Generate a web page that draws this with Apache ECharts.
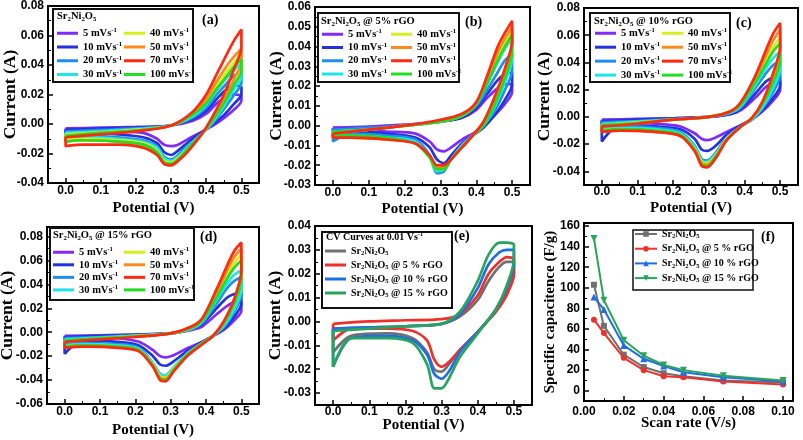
<!DOCTYPE html>
<html><head><meta charset="utf-8">
<script src="https://cdn.jsdelivr.net/npm/echarts@6/dist/echarts.min.js"></script>
<style>html,body{margin:0;padding:0;background:#fff}#c{width:803px;height:440px}</style>
</head><body><div id="c"></div>
<script>
const SANS = "'Liberation Sans', Arial, sans-serif";
const SERIF = "'Liberation Serif', 'Times New Roman', serif";

// ---------- data ----------
const rateNames = ['5 mVs-1','10 mVs-1','20 mVs-1','30 mVs-1','40 mVs-1','50 mVs-1','70 mVs-1','100 mVs-1'];
const rateColors = ['#7f2bff','#2233dd','#1c8ff0','#1ee6e6','#d4f01e','#ff8a1c','#ff2a12','#22dd22'];

// panel (a) Sr2Ni2O5
const xA = [0,0.1,0.2,0.3,0.36,0.4,0.43,0.46,0.48,0.5,0.5,0.48,0.45,0.42,0.39,0.35,0.32,0.3,0.28,0.26,0.22,0.15,0.05,0];
const A5 = [-0.003,-0.0025,-0.002,-0.001,0.002,0.007,0.014,0.019,0.02,0.019,0.016,0.01,0.004,-0.001,-0.005,-0.01,-0.014,-0.015,-0.014,-0.01,-0.006,-0.005,-0.004,-0.005];
const A10 = [-0.004,-0.003,-0.0025,-0.001,0.003,0.009,0.017,0.024,0.026,0.025,0.02,0.014,0.006,0.0,-0.005,-0.012,-0.018,-0.021,-0.019,-0.013,-0.009,-0.007,-0.006,-0.012];
const A20 = [-0.005,-0.004,-0.003,-0.001,0.004,0.011,0.02,0.028,0.033,0.035,0.028,0.02,0.01,0.001,-0.006,-0.014,-0.021,-0.024,-0.022,-0.015,-0.011,-0.009,-0.008,-0.009];
const A30 = [-0.006,-0.005,-0.0035,-0.001,0.005,0.013,0.023,0.032,0.037,0.041,0.032,0.024,0.012,0.002,-0.006,-0.015,-0.022,-0.025,-0.023,-0.016,-0.012,-0.01,-0.009,-0.01];
const A40 = [-0.007,-0.0055,-0.004,-0.001,0.006,0.015,0.026,0.036,0.042,0.047,0.038,0.028,0.014,0.003,-0.006,-0.016,-0.023,-0.026,-0.025,-0.018,-0.013,-0.011,-0.01,-0.011];
const A50 = [-0.008,-0.006,-0.0045,-0.001,0.007,0.017,0.029,0.04,0.046,0.051,0.042,0.031,0.016,0.004,-0.006,-0.017,-0.024,-0.027,-0.026,-0.019,-0.014,-0.012,-0.011,-0.012];
const A70 = [-0.009,-0.007,-0.005,-0.001,0.008,0.02,0.034,0.048,0.057,0.064,0.052,0.038,0.02,0.006,-0.006,-0.018,-0.025,-0.028,-0.027,-0.021,-0.016,-0.014,-0.014,-0.015];
const A100 = [-0.008,-0.006,-0.0045,-0.001,0.006,0.014,0.024,0.033,0.039,0.044,0.036,0.027,0.014,0.003,-0.006,-0.016,-0.024,-0.027,-0.026,-0.019,-0.014,-0.012,-0.011,-0.012];

// panel (b) 5% rGO
const xB = [0,0.1,0.2,0.3,0.36,0.4,0.43,0.46,0.48,0.5,0.5,0.48,0.45,0.42,0.39,0.36,0.33,0.31,0.29,0.27,0.23,0.15,0.05,0];
const B5 = [-0.001,-0.0005,0.0005,0.002,0.004,0.008,0.014,0.019,0.021,0.021,0.017,0.011,0.005,0.0,-0.004,-0.007,-0.011,-0.013,-0.012,-0.008,-0.004,-0.003,-0.002,-0.002];
const B10 = [-0.002,-0.001,0.0,0.002,0.004,0.009,0.016,0.023,0.026,0.027,0.021,0.013,0.005,-0.001,-0.005,-0.009,-0.015,-0.019,-0.017,-0.011,-0.006,-0.004,-0.003,-0.003];
const B20 = [-0.002,-0.001,0.0,0.002,0.005,0.01,0.018,0.027,0.033,0.036,0.028,0.018,0.007,0.0,-0.005,-0.01,-0.017,-0.023,-0.024,-0.015,-0.007,-0.005,-0.004,-0.008];
const B30 = [-0.003,-0.002,0.0,0.002,0.005,0.011,0.021,0.032,0.039,0.044,0.034,0.022,0.009,0.0,-0.005,-0.01,-0.017,-0.022,-0.023,-0.016,-0.008,-0.006,-0.005,-0.005];
const B40 = [-0.003,-0.002,0.0,0.002,0.005,0.011,0.022,0.035,0.042,0.048,0.038,0.025,0.011,0.001,-0.005,-0.011,-0.017,-0.022,-0.022,-0.016,-0.009,-0.007,-0.006,-0.006];
const B50 = [-0.004,-0.002,0.0,0.002,0.005,0.011,0.023,0.037,0.044,0.05,0.04,0.027,0.012,0.001,-0.005,-0.011,-0.017,-0.021,-0.021,-0.016,-0.009,-0.007,-0.006,-0.006];
const B70 = [-0.004,-0.002,0.0,0.003,0.006,0.012,0.025,0.04,0.047,0.053,0.043,0.029,0.014,0.002,-0.005,-0.011,-0.017,-0.02,-0.02,-0.015,-0.009,-0.007,-0.006,-0.006];
const B100 = [-0.003,-0.002,0.0,0.002,0.005,0.011,0.021,0.033,0.04,0.046,0.037,0.024,0.01,0.0,-0.005,-0.011,-0.017,-0.022,-0.022,-0.016,-0.009,-0.006,-0.005,-0.005];

// panel (c) 10% rGO
const xC = [0,0.1,0.2,0.3,0.36,0.39,0.43,0.46,0.48,0.5,0.5,0.48,0.45,0.42,0.39,0.35,0.32,0.295,0.28,0.26,0.22,0.15,0.05,0];
const C5 = [-0.002,-0.0015,-0.001,0.0,0.002,0.005,0.014,0.022,0.025,0.026,0.02,0.012,0.004,-0.002,-0.006,-0.011,-0.015,-0.017,-0.016,-0.012,-0.007,-0.005,-0.004,-0.005];
const C10 = [-0.003,-0.002,-0.001,0.0,0.002,0.006,0.017,0.026,0.029,0.03,0.023,0.014,0.005,-0.002,-0.006,-0.013,-0.021,-0.025,-0.024,-0.016,-0.009,-0.007,-0.006,-0.018];
const C20 = [-0.004,-0.003,-0.0015,0.0,0.003,0.007,0.021,0.032,0.038,0.041,0.031,0.018,0.006,-0.002,-0.007,-0.015,-0.026,-0.032,-0.031,-0.021,-0.011,-0.008,-0.007,-0.008];
const C30 = [-0.005,-0.0035,-0.002,0.0,0.003,0.008,0.023,0.036,0.043,0.048,0.036,0.021,0.007,-0.002,-0.007,-0.016,-0.027,-0.033,-0.032,-0.022,-0.012,-0.009,-0.008,-0.009];
const C40 = [-0.006,-0.004,-0.002,0.0,0.004,0.009,0.026,0.041,0.051,0.058,0.044,0.026,0.009,-0.001,-0.007,-0.016,-0.028,-0.034,-0.033,-0.023,-0.013,-0.01,-0.009,-0.01];
const C50 = [-0.006,-0.0045,-0.002,0.0,0.004,0.01,0.028,0.045,0.056,0.064,0.048,0.029,0.01,-0.001,-0.007,-0.017,-0.029,-0.035,-0.034,-0.024,-0.014,-0.011,-0.01,-0.011];
const C70 = [-0.007,-0.005,-0.002,0.0,0.004,0.011,0.03,0.049,0.061,0.069,0.052,0.032,0.011,-0.001,-0.007,-0.017,-0.03,-0.037,-0.036,-0.025,-0.014,-0.011,-0.01,-0.011];
const C100 = [-0.006,-0.0045,-0.002,0.0,0.004,0.009,0.025,0.039,0.048,0.054,0.042,0.025,0.009,-0.001,-0.007,-0.017,-0.029,-0.036,-0.035,-0.024,-0.013,-0.01,-0.009,-0.01];

// panel (d) 15% rGO
const xD = [0,0.1,0.2,0.3,0.36,0.39,0.43,0.46,0.48,0.5,0.5,0.48,0.45,0.42,0.39,0.35,0.31,0.285,0.27,0.25,0.21,0.15,0.05,0];
const D5 = [-0.003,-0.0025,-0.002,-0.001,0.002,0.005,0.015,0.022,0.025,0.025,0.018,0.01,0.002,-0.003,-0.008,-0.013,-0.019,-0.021,-0.02,-0.015,-0.008,-0.005,-0.004,-0.004];
const D10 = [-0.004,-0.003,-0.002,-0.001,0.003,0.007,0.02,0.029,0.032,0.033,0.024,0.013,0.003,-0.003,-0.008,-0.015,-0.024,-0.028,-0.027,-0.02,-0.011,-0.008,-0.007,-0.018];
const D20 = [-0.005,-0.004,-0.0025,-0.001,0.003,0.008,0.024,0.037,0.043,0.046,0.032,0.017,0.004,-0.003,-0.009,-0.017,-0.029,-0.036,-0.035,-0.026,-0.013,-0.01,-0.009,-0.01];
const D30 = [-0.006,-0.0045,-0.003,-0.001,0.003,0.009,0.027,0.041,0.048,0.052,0.036,0.019,0.005,-0.003,-0.009,-0.017,-0.029,-0.036,-0.035,-0.026,-0.014,-0.011,-0.01,-0.011];
const D40 = [-0.007,-0.005,-0.003,-0.001,0.004,0.01,0.031,0.048,0.058,0.065,0.045,0.024,0.007,-0.003,-0.009,-0.018,-0.03,-0.038,-0.037,-0.027,-0.015,-0.012,-0.011,-0.012];
const D50 = [-0.007,-0.0055,-0.0035,-0.001,0.004,0.011,0.033,0.052,0.063,0.07,0.049,0.026,0.008,-0.003,-0.009,-0.018,-0.031,-0.039,-0.038,-0.028,-0.015,-0.012,-0.011,-0.012];
const D70 = [-0.008,-0.006,-0.004,-0.001,0.005,0.012,0.036,0.056,0.068,0.075,0.052,0.028,0.009,-0.003,-0.01,-0.019,-0.032,-0.041,-0.04,-0.029,-0.016,-0.013,-0.012,-0.013];
const D100 = [-0.007,-0.005,-0.0035,-0.001,0.004,0.01,0.029,0.045,0.054,0.06,0.044,0.024,0.007,-0.003,-0.009,-0.018,-0.031,-0.04,-0.039,-0.028,-0.015,-0.012,-0.011,-0.012];

// panel (e) CV curves at 0.01 V/s
const sampleNames = ['Sr2Ni2O5','Sr2Ni2O5 @ 5 % rGO','Sr2Ni2O5 @ 10 % rGO','Sr2Ni2O5 @ 15 % rGO'];
const sampleColors = ['#707070','#f0302a','#1e6ee6','#2aa45c'];
const xE = [0,0.1,0.2,0.3,0.35,0.4,0.43,0.46,0.48,0.5,0.5,0.48,0.45,0.42,0.39,0.35,0.32,0.3,0.28,0.26,0.22,0.15,0.05,0];
const E0 = [-0.003,-0.0025,-0.002,-0.001,0.002,0.009,0.017,0.023,0.025,0.025,0.02,0.012,0.005,-0.001,-0.006,-0.012,-0.018,-0.021,-0.02,-0.013,-0.007,-0.005,-0.006,-0.013];
const E5 = [-0.001,0.0,0.0005,0.001,0.003,0.011,0.02,0.025,0.027,0.026,0.02,0.011,0.004,-0.001,-0.006,-0.012,-0.017,-0.019,-0.016,-0.008,-0.004,-0.003,-0.003,-0.008];
const E10 = [-0.003,-0.0025,-0.002,-0.001,0.003,0.014,0.024,0.029,0.03,0.03,0.024,0.014,0.005,-0.001,-0.006,-0.013,-0.021,-0.024,-0.022,-0.014,-0.008,-0.006,-0.007,-0.019];
const E15 = [-0.004,-0.003,-0.002,-0.001,0.004,0.017,0.028,0.033,0.033,0.032,0.026,0.015,0.005,-0.001,-0.007,-0.015,-0.024,-0.028,-0.028,-0.018,-0.009,-0.007,-0.007,-0.019];

// panel (f) specific capacitance vs scan rate
const scanRate = [0.005,0.01,0.02,0.03,0.04,0.05,0.07,0.1];
const capS0 = [103,63,35,23,17,14,10,8];
const capS5 = [69,56,32,20,14,13,9,6];
const capS10 = [91,79,44,31,24,18,13,9];
const capS15 = [148,88,49,34,25,20,14.5,10];

// ---------- helpers ----------
function rich(fs){
  const base = {fontFamily:SERIF, fontWeight:'bold', color:'#000'};
  const s = Math.round(fs*0.65*10)/10;
  return {
    n: Object.assign({fontSize:fs, lineHeight:fs+2, verticalAlign:'middle'}, base),
    b: Object.assign({fontSize:s, lineHeight:s, verticalAlign:'bottom'}, base),
    p: Object.assign({fontSize:s, lineHeight:s, verticalAlign:'top'}, base)
  };
}
function rt(str){
  const F = '{n|Sr}{b|2}{n|Ni}{b|2}{n|O}{b|5}';
  return str.split('Sr2Ni2O5').map(part => {
    if (!part) return '';
    if (part.endsWith('s-1')) return '{n|' + part.slice(0,-2) + '}{p|-1}';
    return '{n|' + part + '}';
  }).join(F);
}
function fmt(step, dec){
  return v => { const k = v/step; return Math.abs(k-Math.round(k)) < 1e-6 ? (Math.abs(v) < 1e-12 ? 0 : v).toFixed(dec) : ''; };
}
function axis(grid, min, max, step, dec, name, nameSize, nameGap, margin){
  return {
    type:'value', gridIndex:grid, min, max, minInterval:step, maxInterval:step,
    splitNumber:Math.round((max-min)/step),
    name, nameLocation:'middle', nameGap, nameMoveOverlap:false,
    nameTextStyle:{fontFamily:SERIF, fontWeight:'bold', fontSize:nameSize, color:'#000'},
    axisLine:{show:true, onZero:false, lineStyle:{color:'#000', width:2}},
    axisTick:{show:true, inside:true, length:5, lineStyle:{color:'#000', width:1.5}},
    minorTick:{show:true, splitNumber:2, length:3, lineStyle:{color:'#000', width:1}},
    splitLine:{show:false}, minorSplitLine:{show:false},
    axisLabel:{margin, formatter:fmt(step,dec), fontFamily:SANS, fontWeight:'bold', fontSize:12, color:'#000', hideOverlap:false}
  };
}
function cv(grid, name, color, xs, ys){
  const data = xs.map((x,i) => [x, ys[i]]);
  data.push([xs[0], ys[0]]);
  return {type:'line', name, xAxisIndex:grid, yAxisIndex:grid, data, showSymbol:false, symbol:'none',
    smooth:0.3, lineStyle:{color, width:2.7}, itemStyle:{color}, animation:false, silent:true};
}
function leg(names, left, top, gap, fs, icon, iw, ih){
  const l = {show:true, orient:'vertical', left, top, padding:0, itemGap:gap, itemWidth:iw, itemHeight:ih,
    data:names, selectedMode:false, z:10, formatter:rt,
    textStyle:{color:'#000', fontFamily:SERIF, fontWeight:'bold', fontSize:fs, rich:rich(fs)}};
  if (icon) l.icon = icon;
  return l;
}
function ttl(text, left, top, fs){
  return {text:rt(text), left, top, padding:0, z:10,
    textStyle:{rich:rich(fs), fontFamily:SERIF, fontWeight:'bold', fontSize:fs, color:'#000'}};
}
function letter(text, left, top){
  return {text, left, top, padding:0, z:10, textStyle:{fontFamily:SERIF, fontWeight:'bold', fontSize:14, color:'#000'}};
}

// ---------- layout ----------
const grids = [
  {left:48, top:6, width:211, height:177},
  {left:315, top:7, width:215, height:178},
  {left:584, top:8, width:214, height:177},
  {left:47, top:227, width:212, height:177},
  {left:315, top:226, width:217, height:179},
  {left:584, top:223, width:209, height:178}
].map(g => Object.assign({show:true, borderColor:'#000', borderWidth:2, backgroundColor:'transparent', containLabel:false, outerBoundsMode:'none'}, g));

const xAxes = [
  axis(0,-0.05,0.55,0.1,1,'Potential (V)',15,17.5,2),
  axis(1,-0.05,0.55,0.1,1,'Potential (V)',15,16.5,1.5),
  axis(2,-0.05,0.55,0.1,1,'Potential (V)',15,16,1),
  axis(3,-0.05,0.55,0.1,1,'Potential (V)',15,18.5,2),
  axis(4,-0.05,0.55,0.1,1,'Potential (V)',15,13,1),
  axis(5,0,0.105,0.02,2,'Scan rate (V/s)',15,14.5,4.5)
];
const yAxes = [
  axis(0,-0.04,0.08,0.02,2,'Current (A)',17.5,29,4),
  axis(1,-0.03,0.06,0.01,2,'Current (A)',17.5,30,4),
  axis(2,-0.05,0.08,0.02,2,'Current (A)',17.5,31,4),
  axis(3,-0.06,0.088,0.02,2,'Current (A)',17.5,30.5,4),
  axis(4,-0.035,0.04,0.01,2,'Current (A)',17.5,31,4),
  axis(5,-10,163,20,0,'Specific capacitence (F/g)',15,26.5,4)
];

// ---------- series ----------
const series = [];
const fSym = [['rect',6,0],['circle',6,0],['triangle',7,0],['triangle',7,180]];
[capS0,capS5,capS10,capS15].forEach((ys,i) => {
  series.push({type:'line', name:sampleNames[i], xAxisIndex:5, yAxisIndex:5,
    data:scanRate.map((x,j) => [x, ys[j]]), symbol:fSym[i][0], symbolSize:fSym[i][1], symbolRotate:fSym[i][2],
    showSymbol:true, lineStyle:{color:sampleColors[i], width:2}, itemStyle:{color:sampleColors[i]}, animation:false, silent:true});
});
const drawOrder = [0,1,2,3,4,5,7,6];
[[xA,[A5,A10,A20,A30,A40,A50,A70,A100]],[xB,[B5,B10,B20,B30,B40,B50,B70,B100]],
 [xC,[C5,C10,C20,C30,C40,C50,C70,C100]],[xD,[D5,D10,D20,D30,D40,D50,D70,D100]]].forEach((p,g) => {
  drawOrder.forEach(k => series.push(cv(g, rateNames[k], rateColors[k], p[0], p[1][k])));
});
[E0,E5,E10,E15].forEach((ys,i) => series.push(cv(4, sampleNames[i], sampleColors[i], xE, ys)));

// ---------- legends, titles, boxes ----------
const col1 = rateNames.slice(0,4), col2 = rateNames.slice(4);
const legends = [
  leg(col1,57,27,2,10.5,'rect',21,3), leg(col2,124,27,2,10.5,'rect',21,3),
  leg(col1,322,28,1.5,10.5,'rect',21,3), leg(col2,391,28,1.5,10.5,'rect',21,3),
  leg(col1,595,27,2.2,10.5,'rect',21,3), leg(col2,662,27,2.2,10.5,'rect',21,3),
  leg(col1,53,246,0.8,10.5,'rect',21,3), leg(col2,124,246,0.8,10.5,'rect',21,3),
  leg(sampleNames,325,246,3,10,'rect',21,3),
  leg(sampleNames,634,229,3.7,10,null,22,7)
];
const titles = [
  ttl('Sr2Ni2O5',57,10,10.5), ttl('Sr2Ni2O5 @ 5% rGO',321,15,10.5),
  ttl('Sr2Ni2O5 @ 10% rGO',594,15,10.5), ttl('Sr2Ni2O5 @ 15% rGO',53,229,10.5),
  ttl('CV Curves at 0.01 Vs-1',326,231,10),
  letter('(a)',202,13), letter('(b)',465,15), letter('(c)',736,16),
  letter('(d)',200,230), letter('(e)',454,229), letter('(f)',761,230)
];
const boxes = [[53,9,140,73,2],[318,13,141,69,2],[590,13,140,69,2],[50,228,144,72,2],[322,232,130,76,2],[633,230,120,60,1.5]]
  .map(b => ({type:'rect', z:5, shape:{x:b[0], y:b[1], width:b[2], height:b[3]}, style:{fill:'#fff', stroke:'#111', lineWidth:b[4]}}));

const chart = echarts.init(document.getElementById('c'), null, {renderer:'canvas'});
chart.setOption({
  animation:false, backgroundColor:'#fff',
  grid:grids, xAxis:xAxes, yAxis:yAxes, series, legend:legends, title:titles,
  graphic:{elements:boxes}
});
</script></body></html>
